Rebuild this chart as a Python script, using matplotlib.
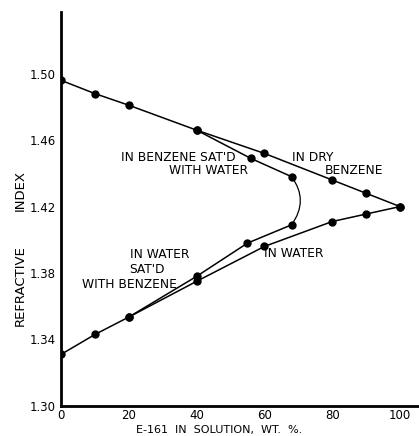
import matplotlib
matplotlib.use("Agg")
import matplotlib.pyplot as plt
from matplotlib.path import Path
from matplotlib.patches import PathPatch

# Data
x_dry = [0, 10, 20, 40, 60, 80, 90, 100]
y_dry = [1.496, 1.488, 1.481, 1.466, 1.452, 1.436, 1.428, 1.420]
x_water = [0, 10, 20, 40, 60, 80, 90, 100]
y_water = [1.331, 1.343, 1.3535, 1.375, 1.396, 1.411, 1.4155, 1.420]
x_benz_sat = [40, 56, 68]
y_benz_sat = [1.466, 1.449, 1.438]
x_water_sat = [68, 55, 40, 20]
y_water_sat = [1.409, 1.398, 1.378, 1.3535]
x_ticks = [0, 20, 40, 60, 80, 100]
y_ticks = [1.30, 1.34, 1.38, 1.42, 1.46, 1.50]

fig = plt.figure(figsize=(4.19, 4.36), dpi=100)
ax = fig.add_axes([0.1456, 0.069, 0.852, 0.903])
ax.set_xlim(0, 105.3)
ax.set_ylim(1.30, 1.537)

lw = 1.1
ms = 5
ax.plot(x_dry, y_dry, 'k-', lw=lw, marker='o', ms=ms)
ax.plot(x_water, y_water, 'k-', lw=lw, marker='o', ms=ms)
ax.plot(x_benz_sat, y_benz_sat, 'k-', lw=lw, marker='o', ms=ms)
ax.plot(x_water_sat, y_water_sat, 'k-', lw=lw, marker='o', ms=ms)
# smooth connecting curve between the two saturated branches
verts = [(x_benz_sat[-1], y_benz_sat[-1]), (73.2, 1.4237), (x_water_sat[0], y_water_sat[0])]
ax.add_patch(PathPatch(Path(verts, [Path.MOVETO, Path.CURVE3, Path.CURVE3]),
                       fc='none', ec='k', lw=0.9))

for s in ['top', 'right']:
    ax.spines[s].set_visible(False)
for s in ['left', 'bottom']:
    ax.spines[s].set_linewidth(2)
ax.set_xticks(x_ticks)
ax.set_yticks(y_ticks)
ax.set_xticklabels([str(v) for v in x_ticks])
ax.set_yticklabels(['%.2f' % v for v in y_ticks])
ax.tick_params(axis='y', length=0, labelsize=8.5, pad=4)
ax.tick_params(axis='x', length=0, labelsize=8.5, pad=2)

kw = dict(fontsize=8.8, family='DejaVu Sans', ha='center', va='center')
ax.text(34.7, 1.4498, "IN BENZENE SAT'D", **kw)
ax.text(43.4, 1.4420, "WITH WATER", **kw)
ax.text(74.2, 1.4498, "IN DRY", **kw)
ax.text(86.3, 1.4420, "BENZENE", **kw)
ax.text(29.1, 1.3910, "IN WATER", **kw)
ax.text(25.4, 1.3820, "SAT'D", **kw)
ax.text(20.2, 1.3730, "WITH BENZENE", **kw)
ax.text(68.7, 1.3920, "IN WATER", **kw)

fig.text(0.048, 0.564, "INDEX", rotation=90, ha='center', va='center', fontsize=9.5)
fig.text(0.048, 0.346, "REFRACTIVE", rotation=90, ha='center', va='center', fontsize=9.5)
fig.text(0.523, 0.002, "E-161  IN  SOLUTION,  WT.  %.", ha='center', va='bottom', fontsize=8)

fig.savefig("out.png", dpi=100)
